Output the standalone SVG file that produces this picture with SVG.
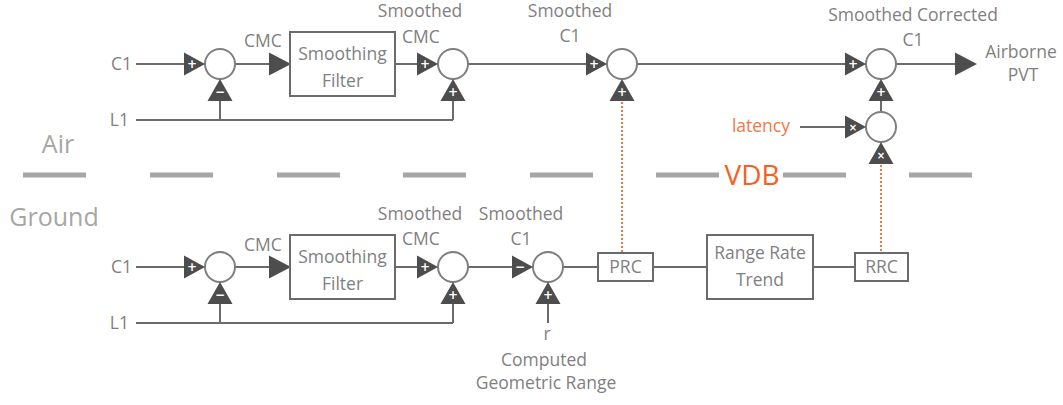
<svg xmlns="http://www.w3.org/2000/svg" width="1063" height="405" viewBox="0 0 1063 405">
<style>
text{font-family:"Open Sans","Liberation Sans",sans-serif;font-weight:400;fill:#7f7f7f;font-size:17.5px;text-anchor:middle}
.end{text-anchor:end}
.big{font-size:25px;fill:#a6a6a6;font-weight:400}
.vdb{font-size:28px;fill:#f8601c;font-weight:400}
.lat{fill:#f2783f;text-anchor:end}
.sign{fill:#ffffff;font-size:12px;font-weight:700;font-family:"DejaVu Sans",sans-serif}
.ln{stroke:#6b6b6b;stroke-width:2;fill:none}
.dot{stroke:#f2783f;stroke-width:2;stroke-dasharray:2 2;fill:none}
.dash{stroke:#a6a6a6;stroke-width:5}
.sum{fill:#ffffff;stroke:#7f7f7f;stroke-width:2}
.box{fill:#ffffff;stroke:#6b6b6b;stroke-width:2}
.tri{fill:#4d4d4d}
</style>
<defs>
<path id="triR" d="M0 0 L-21 -11.5 L-21 11.5 Z"/>
<path id="triU" d="M0 0 L12.5 22 L-12.5 22 Z"/>
<path id="arrR" d="M0 0 L-22 -11.5 L-22 11.5 Z"/>
</defs>

<g id="boundary">
<line class="dash" x1="23" y1="175" x2="86" y2="175"/>
<line class="dash" x1="150" y1="175" x2="213" y2="175"/>
<line class="dash" x1="277" y1="175" x2="340" y2="175"/>
<line class="dash" x1="403" y1="175" x2="466" y2="175"/>
<line class="dash" x1="530" y1="175" x2="593" y2="175"/>
<line class="dash" x1="656" y1="175" x2="719" y2="175"/>
<line class="dash" x1="783" y1="175" x2="846" y2="175"/>
<line class="dash" x1="909" y1="175" x2="972" y2="175"/>
<text class="big" x="58" y="153">Air</text>
<text class="big" x="54" y="226">Ground</text>
<text class="vdb" x="752" y="185">VDB</text>
</g>

<g id="connectors">
<line class="ln" x1="136" y1="64" x2="184" y2="64"/>
<line class="ln" x1="136" y1="120" x2="453" y2="120"/>
<line class="ln" x1="220" y1="120" x2="220" y2="100"/>
<line class="ln" x1="453" y1="120" x2="453" y2="100"/>
<line class="ln" x1="235" y1="64" x2="270" y2="64"/>
<line class="ln" x1="395" y1="64" x2="418" y2="64"/>
<line class="ln" x1="468" y1="64" x2="587" y2="64"/>
<line class="ln" x1="637" y1="64" x2="846" y2="64"/>
<line class="ln" x1="881" y1="100" x2="881" y2="112"/>
<line class="ln" x1="800" y1="127" x2="846" y2="127"/>
<line class="ln" x1="896" y1="64" x2="956" y2="64"/>
<line class="dot" x1="622" y1="102" x2="622" y2="253"/>
<line class="dot" x1="881" y1="165" x2="881" y2="253"/>
<line class="ln" x1="136" y1="267" x2="184" y2="267"/>
<line class="ln" x1="136" y1="323" x2="453" y2="323"/>
<line class="ln" x1="220" y1="323" x2="220" y2="303"/>
<line class="ln" x1="453" y1="323" x2="453" y2="303"/>
<line class="ln" x1="235" y1="267" x2="270" y2="267"/>
<line class="ln" x1="395" y1="267" x2="418" y2="267"/>
<line class="ln" x1="468" y1="267" x2="513" y2="267"/>
<line class="ln" x1="548" y1="303" x2="548" y2="323"/>
<line class="ln" x1="563" y1="267" x2="598" y2="267"/>
<line class="ln" x1="653" y1="267" x2="707" y2="267"/>
<line class="ln" x1="813" y1="267" x2="855" y2="267"/>
</g>

<g id="air-inputs">
<text class="end" x="132" y="70">C1</text>
<text class="end" x="129" y="126">L1</text>
</g>
<g id="air-sum1">
<circle class="sum" cx="220" cy="64" r="15"/>
<use href="#triR" class="tri" x="205" y="64"/>
<text class="sign" x="192" y="68">+</text>
<use href="#triU" class="tri" x="220" y="79"/>
<text class="sign" x="220" y="96">−</text>
</g>
<g id="air-cmc">
<use href="#arrR" class="tri" x="291" y="64"/>
<text x="263" y="47">CMC</text>
</g>
<g id="air-filter">
<rect class="box" x="290" y="32" width="105" height="64"/>
<text x="342.5" y="60">Smoothing</text>
<text x="342.5" y="87">Filter</text>
</g>
<g id="air-sum2">
<text x="420" y="17">Smoothed</text>
<text x="421" y="43">CMC</text>
<circle class="sum" cx="453" cy="64" r="15"/>
<use href="#triR" class="tri" x="438" y="64"/>
<text class="sign" x="425" y="68">+</text>
<use href="#triU" class="tri" x="453" y="79"/>
<text class="sign" x="453" y="96">+</text>
</g>
<g id="air-sum3">
<text x="570" y="17">Smoothed</text>
<text x="570" y="42">C1</text>
<circle class="sum" cx="622" cy="64" r="15"/>
<use href="#triR" class="tri" x="607" y="64"/>
<text class="sign" x="594" y="68">+</text>
<use href="#triU" class="tri" x="622" y="79"/>
<text class="sign" x="622" y="96">+</text>
</g>
<g id="air-sum4">
<text x="913" y="21">Smoothed Corrected</text>
<text x="913" y="46">C1</text>
<circle class="sum" cx="881" cy="64" r="15"/>
<use href="#triR" class="tri" x="866" y="64"/>
<text class="sign" x="853" y="68">+</text>
<use href="#triU" class="tri" x="881" y="79"/>
<text class="sign" x="881" y="96">+</text>
</g>
<g id="air-mult">
<text class="lat" x="790" y="132">latency</text>
<circle class="sum" cx="881" cy="127" r="15"/>
<use href="#triR" class="tri" x="866" y="127"/>
<text class="sign" x="853" y="131" style="font-size:10px">×</text>
<use href="#triU" class="tri" x="881" y="142"/>
<text class="sign" x="881" y="159" style="font-size:10px">×</text>
</g>
<g id="air-output">
<use href="#arrR" class="tri" x="977" y="64"/>
<text x="1021" y="58">Airborne</text>
<text x="1023" y="81">PVT</text>
</g>

<g id="gnd-inputs">
<text class="end" x="132" y="273">C1</text>
<text class="end" x="129" y="329">L1</text>
</g>
<g id="gnd-sum1">
<circle class="sum" cx="220" cy="267" r="15"/>
<use href="#triR" class="tri" x="205" y="267"/>
<text class="sign" x="192" y="271">+</text>
<use href="#triU" class="tri" x="220" y="282"/>
<text class="sign" x="220" y="299">−</text>
</g>
<g id="gnd-cmc">
<use href="#arrR" class="tri" x="291" y="267"/>
<text x="263" y="251">CMC</text>
</g>
<g id="gnd-filter">
<rect class="box" x="290" y="235" width="105" height="64"/>
<text x="342.5" y="263">Smoothing</text>
<text x="342.5" y="290">Filter</text>
</g>
<g id="gnd-sum2">
<text x="420" y="220">Smoothed</text>
<text x="421" y="245">CMC</text>
<circle class="sum" cx="453" cy="267" r="15"/>
<use href="#triR" class="tri" x="438" y="267"/>
<text class="sign" x="425" y="271">+</text>
<use href="#triU" class="tri" x="453" y="282"/>
<text class="sign" x="453" y="299">+</text>
</g>
<g id="gnd-sum3">
<text x="521" y="220">Smoothed</text>
<text x="521" y="245">C1</text>
<circle class="sum" cx="548" cy="267" r="15"/>
<use href="#triR" class="tri" x="533" y="267"/>
<text class="sign" x="520" y="271">−</text>
<use href="#triU" class="tri" x="548" y="282"/>
<text class="sign" x="548" y="299">+</text>
</g>
<g id="gnd-range">
<text x="547" y="340">r</text>
<text x="544" y="366">Computed</text>
<text x="546" y="389">Geometric Range</text>
</g>
<g id="gnd-prc">
<rect class="box" x="598" y="253" width="55" height="28"/>
<text x="625.5" y="273">PRC</text>
</g>
<g id="gnd-trend">
<rect class="box" x="707" y="235" width="106" height="64"/>
<text x="760" y="259">Range Rate</text>
<text x="760" y="286">Trend</text>
</g>
<g id="gnd-rrc">
<rect class="box" x="855" y="253" width="53" height="28"/>
<text x="881.5" y="273">RRC</text>
</g>
</svg>
